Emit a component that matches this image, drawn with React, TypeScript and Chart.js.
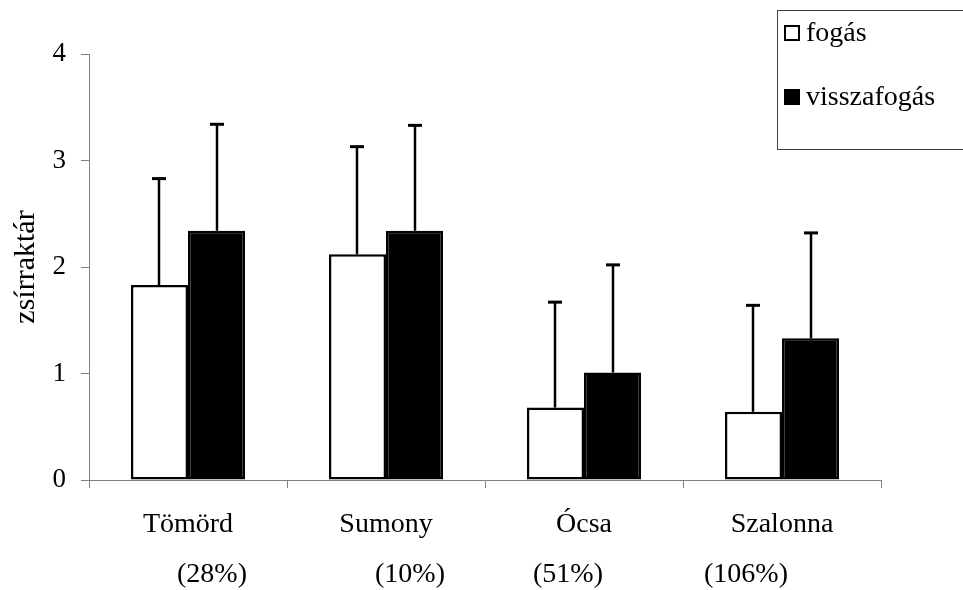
import React, { useEffect, useRef } from "react";
import { Chart, registerables } from "chart.js";

Chart.register(...registerables);

// ---- data ----
const categories = ["Tömörd", "Sumony", "Ócsa", "Szalonna"];
const percentLabels = ["(28%)", "(10%)", "(51%)", "(106%)"];
const seriesNames = ["fogás", "visszafogás"];
const fogasValues = [1.83, 2.12, 0.68, 0.64];
const fogasErrors = [1.0, 1.01, 0.99, 1.0];
const visszaValues = [2.34, 2.34, 1.01, 1.33];
const visszaErrors = [1.0, 0.99, 1.01, 0.99];
const yMin = 0;
const yMax = 4;
const yStep = 1;
const yTitle = "zsírraktár";

// ---- style ----
const FONT = "'Liberation Serif', 'Times New Roman', serif";
const AXIS_GRAY = "#808080";
const PCT_OFFSETS = [24, 24, -16, -36];

const errorBarPlugin = {
  id: "errorBars",
  afterDatasetsDraw(chart: any) {
    const ctx = chart.ctx;
    const yScale = chart.scales.y;
    const errs = [fogasErrors, visszaErrors];
    ctx.save();
    ctx.strokeStyle = "#000";
    chart.data.datasets.forEach((ds: any, di: number) => {
      const meta = chart.getDatasetMeta(di);
      meta.data.forEach((bar: any, i: number) => {
        const v = ds.data[i] as number;
        const top = yScale.getPixelForValue(v + errs[di][i]);
        const x = Math.round(bar.x);
        ctx.lineWidth = 2.5;
        ctx.beginPath();
        ctx.moveTo(x, bar.y);
        ctx.lineTo(x, top);
        ctx.stroke();
        ctx.lineWidth = 3;
        ctx.beginPath();
        ctx.moveTo(x - 7, top);
        ctx.lineTo(x + 7, top);
        ctx.stroke();
      });
    });
    ctx.restore();
  },
};

const extrasPlugin = {
  id: "extras",
  afterDraw(chart: any) {
    const ctx = chart.ctx;
    const xScale = chart.scales.x;
    ctx.save();
    // percentage labels
    ctx.fillStyle = "#000";
    ctx.font = `28px ${FONT}`;
    ctx.textAlign = "center";
    ctx.textBaseline = "alphabetic";
    percentLabels.forEach((t, i) => {
      ctx.fillText(t, xScale.getPixelForValue(i) + PCT_OFFSETS[i], 582);
    });
    // legend box
    ctx.strokeStyle = "#404040";
    ctx.lineWidth = 1;
    ctx.strokeRect(777.5, 10.5, 200, 139);
    const items = [
      { name: seriesNames[0], fill: "#fff", y: 25 },
      { name: seriesNames[1], fill: "#000", y: 89 },
    ];
    ctx.textAlign = "left";
    ctx.font = `28px ${FONT}`;
    items.forEach((it) => {
      ctx.fillStyle = it.fill;
      ctx.fillRect(784, it.y, 16, 16);
      ctx.strokeStyle = "#000";
      ctx.lineWidth = 2;
      ctx.strokeRect(785, it.y + 1, 14, 14);
      ctx.fillStyle = "#000";
      ctx.fillText(it.name, 806, it.y + 16);
    });
    ctx.restore();
  },
};

export default function App() {
  const canvasRef = useRef<HTMLCanvasElement | null>(null);

  useEffect(() => {
    document.body.style.margin = "0";
    const canvas = canvasRef.current;
    if (!canvas) return;
    const chart = new Chart(canvas, {
      type: "bar",
      data: {
        labels: categories,
        datasets: [
          {
            label: seriesNames[0],
            data: fogasValues,
            backgroundColor: "#ffffff",
            borderColor: "#000000",
            borderWidth: 2.5,
            borderSkipped: false,
          },
          {
            label: seriesNames[1],
            data: visszaValues,
            backgroundColor: "#000000",
            borderColor: "#000000",
            borderWidth: 2.5,
            borderSkipped: false,
          },
        ],
      },
      options: {
        responsive: false,
        animation: false,
        devicePixelRatio: 1,
        layout: { padding: { left: 0, right: 82, top: 54, bottom: 0 } },
        datasets: {
          bar: { categoryPercentage: 0.576, barPercentage: 1.0 },
        },
        plugins: {
          legend: { display: false },
          tooltip: { enabled: false },
        },
        scales: {
          x: {
            grid: {
              offset: true,
              drawOnChartArea: false,
              drawTicks: true,
              tickLength: 8,
              color: AXIS_GRAY,
            },
            border: { display: true, color: AXIS_GRAY, width: 1 },
            ticks: {
              color: "#000",
              font: { family: FONT, size: 28 },
              padding: 20,
              maxRotation: 0,
            },
            afterFit(scale: any) {
              scale.height = 110;
            },
          },
          y: {
            min: yMin,
            max: yMax,
            grid: {
              drawOnChartArea: false,
              drawTicks: true,
              tickLength: 8,
              color: AXIS_GRAY,
            },
            border: { display: true, color: AXIS_GRAY, width: 1 },
            ticks: {
              stepSize: yStep,
              color: "#000",
              font: { family: FONT, size: 27 },
              padding: 15,
            },
            title: {
              display: true,
              text: yTitle,
              color: "#000",
              font: { family: FONT, size: 30 },
              padding: { top: 8, bottom: 0 },
            },
            afterFit(scale: any) {
              scale.width = 89;
            },
          },
        },
      },
      plugins: [errorBarPlugin, extrasPlugin],
    });
    return () => chart.destroy();
  }, []);

  return (
    <div style={{ position: "absolute", left: 0, top: 0, width: 963, height: 590, background: "#fff" }}>
      <canvas ref={canvasRef} width={963} height={590} />
    </div>
  );
}
